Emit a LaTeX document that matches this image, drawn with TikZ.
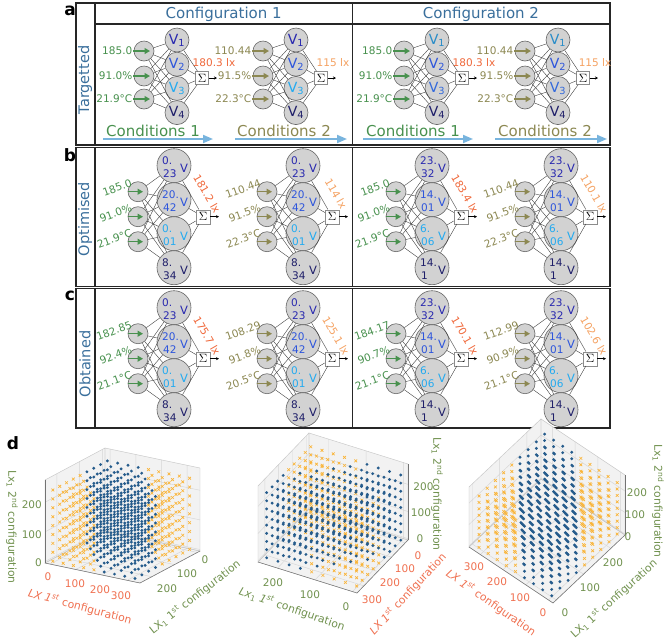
\documentclass[tikz,border=0pt]{standalone}
\usepackage{fontspec}
\setmainfont{DejaVu Sans}
\usetikzlibrary{arrows.meta}
\definecolor{cblue}{RGB}{58,111,156}
\definecolor{cgreen}{RGB}{72,145,78}
\definecolor{colive}{RGB}{140,136,82}
\definecolor{corA}{RGB}{240,104,58}
\definecolor{corB}{RGB}{245,162,98}
\definecolor{vA1}{RGB}{40,40,175}
\definecolor{vA2}{RGB}{45,85,220}
\definecolor{vA3}{RGB}{35,170,240}
\definecolor{vA4}{RGB}{30,30,105}
\definecolor{vB1}{RGB}{40,140,200}
\definecolor{vB2}{RGB}{45,85,220}
\definecolor{vB3}{RGB}{50,105,220}
\definecolor{vB4}{RGB}{30,30,105}
\definecolor{clight}{RGB}{120,180,222}
\definecolor{cfill}{RGB}{210,210,210}
\definecolor{tgreen}{RGB}{112,145,78}
\definecolor{torange}{RGB}{240,112,80}
\definecolor{dotblue}{RGB}{38,92,140}
\definecolor{xorange}{RGB}{250,180,55}

\newcommand\dcube[2]{%
  \fill[pane] (0,0,0) -- (1,0,0) -- (1,1,0) -- (0,1,0) -- cycle;
  \fill[pane] (#1,0,0) -- (#1,1,0) -- (#1,1,1) -- (#1,0,1) -- cycle;
  \fill[pane] (0,#2,0) -- (1,#2,0) -- (1,#2,1) -- (0,#2,1) -- cycle;
  \foreach \gv in {0.054,0.324,0.595,0.865}{\draw[gridl] (\gv,0,0) -- (\gv,1,0) (\gv,#2,0) -- (\gv,#2,1);}
  \foreach \gv in {0.045,0.424,0.803}{\draw[gridl] (0,\gv,0) -- (1,\gv,0) (#1,\gv,0) -- (#1,\gv,1);}
  \foreach \gv in {0.018,0.375,0.732}{\draw[gridl] (#1,0,\gv) -- (#1,1,\gv) (0,#2,\gv) -- (1,#2,\gv);}
  \draw[paneedge] (0,0,0) -- (1,0,0) -- (1,1,0) -- (0,1,0) -- cycle;
  \draw[paneedge] (#1,0,0) -- (#1,1,0) -- (#1,1,1) -- (#1,0,1) -- cycle;
  \draw[paneedge] (0,#2,0) -- (1,#2,0) -- (1,#2,1) -- (0,#2,1) -- cycle;
}
\newcommand\dpoints{%
  \foreach \i in {0,...,8}{\foreach \j in {0,...,8}{%
    \pgfmathtruncatemacro\mydd{abs(\i-\j)}%
    \ifnum\mydd>3
      \foreach \k in {0,...,8}{\draw[orx] ({(40*\i+20)/370},{(30*\j+12)/264},{(30*\k+5)/280}) +(-1.4pt,-1.4pt) -- +(1.4pt,1.4pt) +(-1.4pt,1.4pt) -- +(1.4pt,-1.4pt);}%
    \fi}}%
  \foreach \i in {0,...,8}{\foreach \j in {0,...,8}{%
    \pgfmathtruncatemacro\mydd{abs(\i-\j)}%
    \ifnum\mydd<4
      \foreach \k in {0,...,8}{\fill[bluept] ({(40*\i+20)/370},{(30*\j+12)/264},{(30*\k+5)/280}) circle[radius=1.6pt];}%
    \fi}}%
}

\begin{document}
\begin{tikzpicture}[x=1pt,y=-1pt,
  frame/.style={draw=black!85,line width=1.1pt},
  plet/.style={font=\fontsize{17}{20}\selectfont\bfseries,inner sep=0pt},
  hdr/.style={font=\fontsize{15}{18}\selectfont,text=cblue,inner sep=0pt},
  rowlab/.style={font=\fontsize{14.5}{17}\selectfont,text=cblue,rotate=90,inner sep=0pt},
  incirc/.style={circle,draw=black!60,fill=cfill,minimum size=20pt,inner sep=0pt,line width=0.6pt},
  vcircA/.style={circle,draw=black!60,fill=cfill,minimum size=24pt,inner sep=0pt,line width=0.6pt,font=\fontsize{14}{16}\selectfont},
  vcircB/.style={circle,draw=black!60,fill=cfill,minimum size=34pt,inner sep=0pt,line width=0.6pt},
  vnum/.style={font=\fontsize{10.5}{12}\selectfont,inner sep=0pt},
  vlet/.style={font=\fontsize{11.5}{13}\selectfont,inner sep=0pt},
  sigbox/.style={draw=black!45,fill=white,minimum size=13pt,inner sep=0pt,font=\fontsize{12}{12}\selectfont},
  conn/.style={draw=black!75,line width=0.4pt},
  sigarrow/.style={-{Stealth[length=3pt,width=3pt]},line width=0.6pt,draw=black},
  inarrow/.style={-{Triangle[length=5.5pt,width=6pt]},line width=1.3pt},
  inlab/.style={font=\fontsize{10.5}{12}\selectfont,inner sep=0.5pt},
  outlab/.style={font=\fontsize{10.5}{12}\selectfont,inner sep=0.5pt},
  condlab/.style={font=\fontsize{15}{18}\selectfont,inner sep=0pt},
  condarrow/.style={-{Triangle[length=10pt,width=8pt]},line width=1.8pt,draw=clight},
  pane/.style={fill=black!5},
  gridl/.style={draw=black!16,line width=0.45pt},
  paneedge/.style={draw=black!22,line width=0.45pt},
  axl/.style={draw=black!55,line width=0.5pt},
  orx/.style={draw=xorange,line width=0.65pt},
  bluept/.style={fill=dotblue},
  tickg/.style={font=\fontsize{10.5}{12}\selectfont,text=tgreen,inner sep=0pt},
  ticko/.style={font=\fontsize{10.5}{12}\selectfont,text=torange,inner sep=0pt},
  axg/.style={font=\fontsize{10.8}{12}\selectfont,text=tgreen,inner sep=0pt},
  axo/.style={font=\fontsize{10.8}{12}\selectfont,text=torange,inner sep=0pt}
]
\useasboundingbox (0,0) rectangle (672,641);
\fill[white] (0,0) rectangle (672,641);

% ---------- frames ----------
\draw[frame] (76,3) rectangle (610,145);
\draw[frame] (95,3) -- (95,145);
\draw[frame] (95,24) -- (610,24);
\draw[frame] (352.5,3) -- (352.5,145);
\draw[frame] (76,147.5) rectangle (610,286.5);
\draw[frame] (95,147.5) -- (95,286.5);
\draw[frame] (352.5,147.5) -- (352.5,286.5);
\draw[frame] (76,288.5) rectangle (610,428);
\draw[frame] (95,288.5) -- (95,428);
\draw[frame] (352.5,288.5) -- (352.5,428);

\node[plet] (pa) at (70,11) {a};
\node[plet] (pb) at (70,155) {b};
\node[plet] (pc) at (70,296) {c};
\node[plet] (pd) at (13,443) {d};

\node[hdr] (h1) at (223.7,14) {Configuration 1};
\node[hdr] (h2) at (481,14) {Configuration 2};
\node[rowlab] (r1) at (85,80) {Targetted};
\node[rowlab] (r2) at (85,219) {Optimised};
\node[rowlab] (r3) at (85,364) {Obtained};

% ---------- conditions ----------
\coordinate (k1s) at (103,139); \coordinate (k1e) at (213,139);
\coordinate (k2s) at (235,139); \coordinate (k2e) at (347,139);
\coordinate (k3s) at (363,139); \coordinate (k3e) at (473,139);
\coordinate (k4s) at (495,139); \coordinate (k4e) at (607,139);
\draw[condarrow] (k1s) -- (k1e);
\draw[condarrow] (k2s) -- (k2e);
\draw[condarrow] (k3s) -- (k3e);
\draw[condarrow] (k4s) -- (k4e);
\node[condlab,text=cgreen] (k1) at (153,130.5) {Conditions 1};
\node[condlab,text=colive] (k2) at (284,130.5) {Conditions 2};
\node[condlab,text=cgreen] (k3) at (413,130.5) {Conditions 1};
\node[condlab,text=colive] (k4) at (545,130.5) {Conditions 2};

% ---------- panel a networks ----------
\foreach \nm/\xo/\ic/\la/\lb/\lc/\out/\oc/\vs in {
  a1/144/cgreen/185.0/91.0\%/{21.9°C}/{180.3 lx}/corA/A,
  a2/263/colive/110.44/91.5\%/{22.3°C}/{115 lx}/corB/A,
  a3/404/cgreen/185.0/91.0\%/{21.9°C}/{180.3 lx}/corA/B,
  a4/525/colive/110.44/91.5\%/{22.3°C}/{115 lx}/corB/B}{
  \foreach \m/\yy in {1/40,2/64.2,3/88.4,4/112.6}
    \node[vcircA,text=v\vs\m] (\nm-v\m) at ({\xo+33},\yy) {V\textsubscript{\m}};
  \foreach \k/\yy/\lab in {1/51/\la,2/76/\lb,3/99/\lc}{
    \node[incirc] (\nm-i\k) at (\xo,\yy) {};
    \node[inlab,text=\ic,anchor=east] (\nm-l\k) at ({\xo-11},\yy) {\lab};
  }
  \node[sigbox] (\nm-s) at ({\xo+58},78) {$\Sigma$};
  \coordinate (\nm-e) at ({\xo+73},78);
  \foreach \k in {1,2,3}{\foreach \m in {1,...,4}{\draw[conn] (\nm-i\k) -- (\nm-v\m);}}
  \foreach \m in {1,...,4}{\draw[conn] (\nm-v\m) -- (\nm-s);}
  \foreach \k in {1,2,3}{\draw[inarrow,color=\ic] (\nm-l\k.east) -- ([xshift=6pt]\nm-i\k.center);}
  \draw[sigarrow] (\nm-s) -- (\nm-e);
  \node[outlab,text=\oc] (\nm-o) at ({\xo+70},63) {\out};
}

% ---------- panel b and c networks ----------
\foreach \nm/\xo/\yc/\ic/\la/\lb/\lc/\out/\oc/\vs in {
  b1/138/216.7/cgreen/185.0/91.0\%/{21.9°C}/{181.2 lx}/corA/1,
  b2/267/216.7/colive/110.44/91.5\%/{22.3°C}/{114 lx}/corB/1,
  b3/396/216.7/cgreen/185.0/91.0\%/{21.9°C}/{183.4 lx}/corA/2,
  b4/525/216.7/colive/110.44/91.5\%/{22.3°C}/{110.1 lx}/corB/2,
  c1/138/358.7/cgreen/182.85/92.4\%/{21.1°C}/{175.7 lx}/corA/1,
  c2/267/358.7/colive/108.29/91.8\%/{20.5°C}/{125.1 lx}/corB/1,
  c3/396/358.7/cgreen/184.17/90.7\%/{21.1°C}/{170.1 lx}/corA/2,
  c4/525/358.7/colive/112.99/90.9\%/{21.1°C}/{102.6 lx}/corB/2}{
  \ifnum\vs=1 \def\vset{1/-51/0./23,2/-17/20./42,3/17/0./01,4/51/8./34}%
  \else \def\vset{1/-51/23./32,2/-17/14./01,3/17/6./06,4/51/14./1}\fi
  \foreach \m/\dy/\ta/\tb in \vset {
    \node[vcircB] (\nm-v\m) at ({\xo+36},{\yc+(\dy)}) {};
    \node[vnum,text=vA\m,anchor=west] (\nm-p\m) at ({\xo+24},{\yc+(\dy)-5.5}) {\ta};
    \node[vnum,text=vA\m,anchor=west] (\nm-q\m) at ({\xo+25},{\yc+(\dy)+8}) {\tb};
    \node[vlet,text=vA\m] (\nm-w\m) at ({\xo+46},{\yc+(\dy)+2.5}) {V};
  }
  \foreach \k/\dy/\lab in {1/-25/\la,2/0/\lb,3/25/\lc}{
    \node[incirc] (\nm-i\k) at (\xo,{\yc+(\dy)}) {};
    \node[inlab,text=\ic,anchor=east,rotate=20] (\nm-l\k) at ({\xo-6},{\yc+(\dy)-9.5}) {\lab};
    \coordinate (\nm-a\k) at ({\xo-10},{\yc+(\dy)});
  }
  \node[sigbox,minimum size=14pt] (\nm-s) at ({\xo+65},\yc) {$\Sigma$};
  \coordinate (\nm-e) at ({\xo+81},\yc);
  \foreach \k in {1,2,3}{\foreach \m in {1,...,4}{\draw[conn] (\nm-i\k) -- (\nm-v\m);}}
  \foreach \m in {1,...,4}{\draw[conn] (\nm-v\m) -- (\nm-s);}
  \foreach \k in {1,2,3}{\draw[inarrow,color=\ic] (\nm-a\k) -- ([xshift=5pt]\nm-i\k.center);}
  \draw[sigarrow] (\nm-s) -- (\nm-e);
  \node[outlab,text=\oc,rotate=-60] (\nm-o) at ({\xo+69},{\yc-23}) {\out};
}

% ---------- panel d : plot 1 ----------
\begin{scope}[shift={(105,531)},x={(95pt,-20pt)},y={(-60pt,-32pt)},z={(0pt,83pt)}]
  \dcube{0}{0}
  \draw[axl] (0,1,0) -- (1,1,0);
  \draw[axl] (1,0,0) -- (1,1,0);
  \draw[axl] (0,1,0) -- (0,1,1);
  \dpoints
\end{scope}
\node[ticko] (p1x0) at (48,577) {0};
\node[ticko] (p1x1) at (75,584) {100};
\node[ticko] (p1x2) at (100,590) {200};
\node[ticko] (p1x3) at (121,596) {300};
\node[tickg] (p1y0) at (205,560) {0};
\node[tickg] (p1y1) at (187,574) {100};
\node[tickg] (p1y2) at (167,589) {200};
\node[tickg,anchor=east] (p1z0) at (42,563) {0};
\node[tickg,anchor=east] (p1z1) at (42,535) {100};
\node[tickg,anchor=east] (p1z2) at (42,505) {200};
\node[axo,rotate=-15] (p1lx) at (80,607) {\textit{LX 1}\textsuperscript{\textit{st}} configuration};
\node[axg,rotate=38] (p1ly) at (195,597) {LX\textsubscript{1} 1\textsuperscript{st} configuration};
\node[axg,rotate=-90] (p1lz) at (12,527) {Lx\textsubscript{1} 2\textsuperscript{nd} configuration};

% ---------- panel d : plot 2 ----------
\begin{scope}[shift={(408,540)},x={(-51pt,-53pt)},y={(-99pt,31pt)},z={(0pt,76pt)}]
  \dcube{0}{1}
  \draw[axl] (0,0,0) -- (1,0,0);
  \draw[axl] (1,0,0) -- (1,1,0);
  \draw[axl] (0,0,0) -- (0,0,1);
  \dpoints
\end{scope}
\node[ticko] (p2x0) at (418,556) {0};
\node[ticko] (p2x1) at (405,569) {100};
\node[ticko] (p2x2) at (390,583) {200};
\node[ticko] (p2x3) at (372,600) {300};
\node[tickg] (p2y2) at (273,583) {200};
\node[tickg] (p2y1) at (310,595) {100};
\node[tickg] (p2y0) at (346,607) {0};
\node[tickg] (p2z0) at (420,539) {0};
\node[tickg] (p2z1) at (421,513) {100};
\node[tickg] (p2z2) at (423.5,487) {200};
\node[axg,rotate=-19] (p2ly) at (292,609) {\textit{Lx}\textsubscript{1} \textit{1}\textsuperscript{\textit{st}} configuration};
\node[axo,rotate=47] (p2lx) at (408,594) {\textit{LX 1}\textsuperscript{\textit{st}} configuration};
\node[axg,rotate=-90] (p2lz) at (437,494) {Lx\textsubscript{1} 2\textsuperscript{nd} configuration};

% ---------- panel d : plot 3 ----------
\begin{scope}[shift={(553,603)},x={(-84pt,56pt)},y={(72pt,68pt)},z={(0pt,60pt)}]
  \dcube{1}{1}
  \draw[axl] (0,0,0) -- (1,0,0);
  \draw[axl] (0,0,0) -- (0,1,0);
  \draw[axl] (0,1,0) -- (0,1,1);
  \dpoints
\end{scope}
\node[ticko] (p3x3) at (474,567) {300};
\node[ticko] (p3x2) at (497,582) {200};
\node[ticko] (p3x1) at (520,598) {100};
\node[ticko] (p3x0) at (543,613) {0};
\node[tickg] (p3y0) at (565,613) {0};
\node[tickg] (p3y1) at (590,588) {100};
\node[tickg] (p3y2) at (613,563) {200};
\node[tickg] (p3z0) at (628,537) {0};
\node[tickg] (p3z1) at (635,515) {100};
\node[tickg] (p3z2) at (637,493) {200};
\node[axo,rotate=-35] (p3lx) at (491,603) {\textit{LX 1}\textsuperscript{\textit{st}} configuration};
\node[axg,rotate=42] (p3ly) at (614,599) {LX\textsubscript{1} 1\textsuperscript{st} configuration};
\node[axg,rotate=-90] (p3lz) at (658,501) {Lx\textsubscript{1} 2\textsuperscript{nd} configuration};
\end{tikzpicture}
\end{document}
